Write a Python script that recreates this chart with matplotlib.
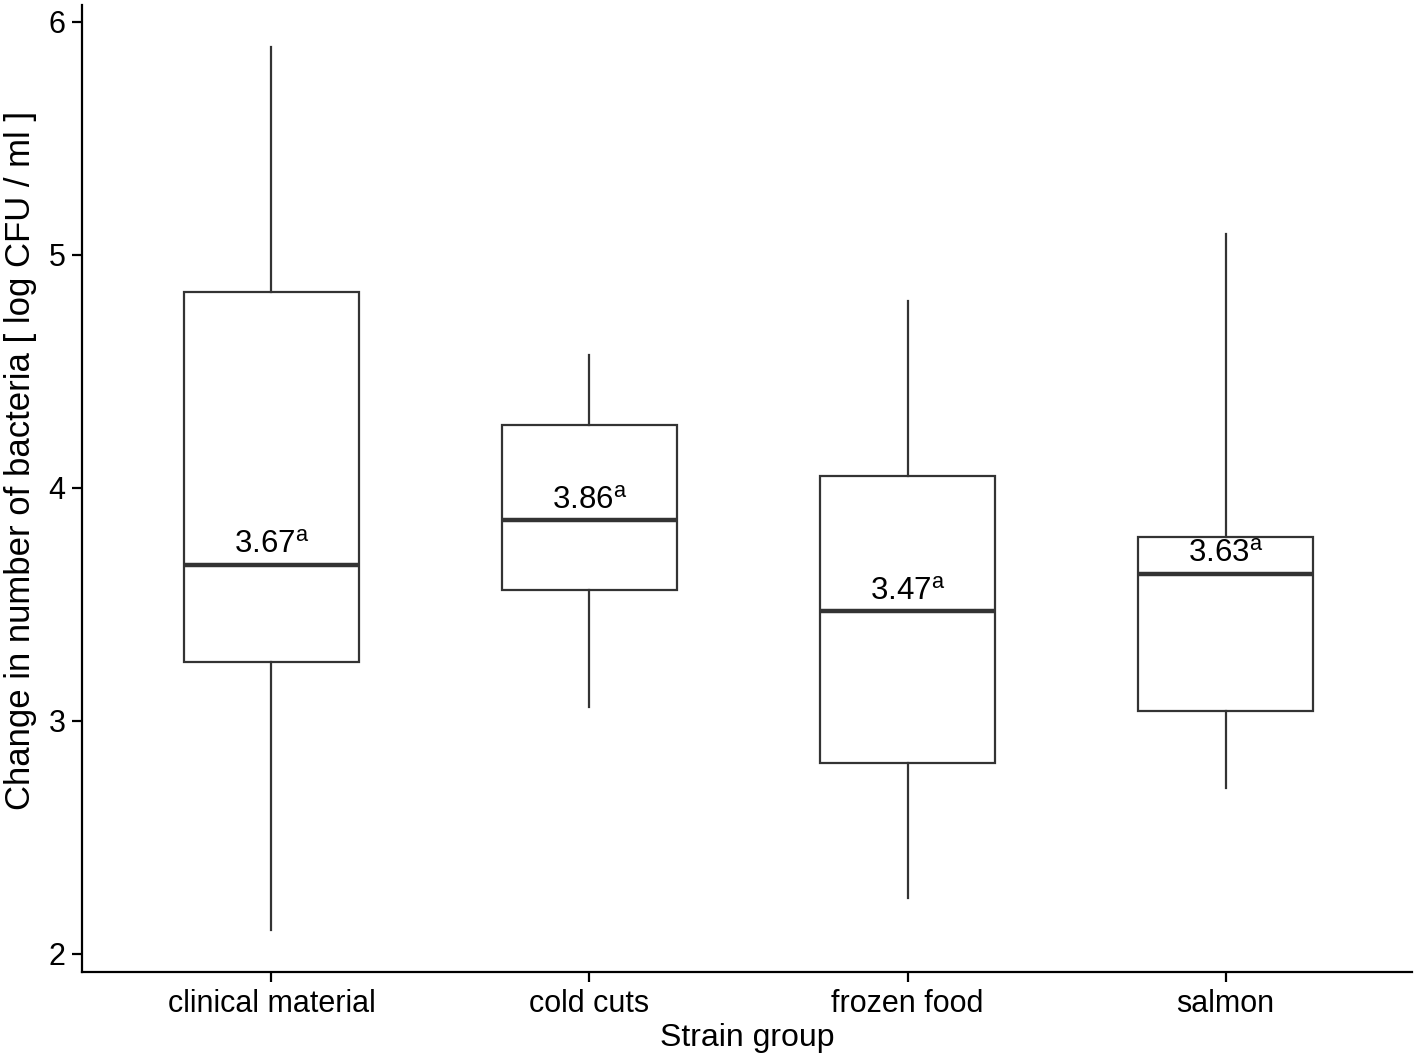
import matplotlib
matplotlib.use("Agg")
import matplotlib.pyplot as plt

# data
groups = ["clinical material", "cold cuts", "frozen food", "salmon"]
whislo = [2.10, 3.06, 2.24, 2.71]
q1 = [3.25, 3.56, 2.82, 3.04]
med = [3.67, 3.86, 3.47, 3.63]
q3 = [4.84, 4.27, 4.05, 3.79]
whishi = [5.89, 4.57, 4.80, 5.09]
letters = ["a", "a", "a", "a"]

plt.rcParams["font.family"] = ["Liberation Sans", "DejaVu Sans"]
plt.rcParams["mathtext.fontset"] = "custom"
plt.rcParams["mathtext.rm"] = "Liberation Sans"

fig = plt.figure(figsize=(14.16, 10.57), dpi=100)
ax = fig.add_axes([0.058, 0.080, 0.939, 0.915])

stats = []
for i, g in enumerate(groups):
    stats.append(dict(label=g, whislo=whislo[i], q1=q1[i], med=med[i],
                      q3=q3[i], whishi=whishi[i], fliers=[]))

col = "#333333"
ax.bxp(stats, positions=range(1, len(groups) + 1), widths=0.55,
       showcaps=False, patch_artist=True,
       boxprops=dict(facecolor="white", edgecolor=col, linewidth=1.6),
       whiskerprops=dict(color=col, linewidth=1.6),
       medianprops=dict(color=col, linewidth=3.2))

for i, m in enumerate(med):
    ax.text(i + 1, m + 0.02, f"{m:.2f}$^{{\\mathrm{{{letters[i]}}}}}$",
            ha="center", va="bottom", fontsize=22.5)

ax.set_xlim(0.405, 4.585)
ax.set_ylim(1.92, 6.07)
ax.set_yticks([2, 3, 4, 5, 6])
ax.set_xticks(range(1, len(groups) + 1))
ax.set_xticklabels(groups)

for s in ["top", "right"]:
    ax.spines[s].set_visible(False)
for s in ["left", "bottom"]:
    ax.spines[s].set_linewidth(1.6)
ax.tick_params(length=7, width=1.6, labelsize=22, colors="black", pad=5)

ax.set_xlabel("Strain group", fontsize=23, labelpad=3)
ax.set_ylabel("Change in number of bacteria [ log CFU / ml ]", fontsize=25)
ax.yaxis.set_label_coords(-0.034, 0.529)

fig.savefig("out.png", dpi=100)
